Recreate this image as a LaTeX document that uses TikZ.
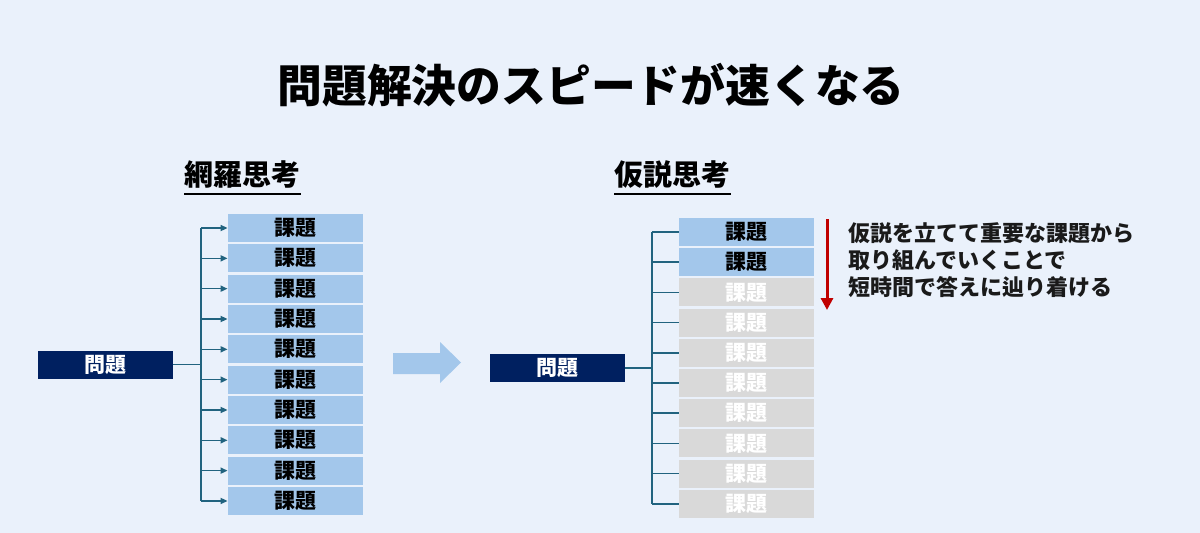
\documentclass[tikz,border=0pt]{standalone}
\usepackage{fontspec}
\setmainfont{Noto Sans CJK JP}
\usetikzlibrary{arrows.meta}
\definecolor{bg}{HTML}{EAF1FB}
\definecolor{lb}{HTML}{A3C7EB}
\definecolor{gr}{HTML}{D9D9D9}
\definecolor{navy}{HTML}{002060}
\definecolor{ln}{HTML}{21637F}
\definecolor{rd}{HTML}{C00000}
\definecolor{txt}{HTML}{1A1A1A}
\begin{document}
\begin{tikzpicture}[x=0.5pt,y=-0.5pt,
  kbox/.style={minimum width=67.5pt, minimum height=14pt, inner sep=0pt, font=\bfseries\fontsize{10.5}{12}\selectfont},
  bluebox/.style={kbox, fill=lb, text=black},
  graybox/.style={kbox, fill=gr, text=white},
  probbox/.style={minimum width=67.5pt, minimum height=14pt, inner sep=0pt, fill=navy, text=white, font=\bfseries\fontsize{10.5}{12}\selectfont},
  heading/.style={inner sep=0pt, text=black, font=\bfseries\fontsize{14.5}{16}\selectfont},
  conn/.style={draw=ln, line width=0.8pt},
  arr/.style={conn, -{Triangle[length=3.5pt,width=3pt]}},
]
\useasboundingbox (0,0) rectangle (1200,532);
\fill[bg] (-20,-20) rectangle (1220,560);

% title
\node[inner sep=0pt, text=black, font=\bfseries\fontsize{22.4}{26}\selectfont] (title) at (591,85) {問題解決のスピードが速くなる};

% headings
\node[heading] (h1) at (242.5,174) {網羅思考};
\node[heading] (h2) at (672.5,174) {仮説思考};
\draw[line width=0.8pt] ([yshift=-3pt]h1.south west) -- ([yshift=-3pt]h1.south east);
\draw[line width=0.8pt] ([yshift=-3pt]h2.south west) -- ([yshift=-3pt]h2.south east);

% left side
\node[probbox] (p1) at (105.5,364.5) {問題};
\coordinate (s1) at (201,364.5);
\foreach \i in {0,...,9}{
  \node[bluebox] (a\i) at (295.5,{228+30.33*\i}) {課題};
}
\draw[conn] (p1.east) -- (s1);
\draw[conn] (s1 |- a0.west) -- (s1 |- a9.west);
\foreach \i in {0,...,9}{
  \draw[arr] (s1 |- a\i.west) -- (a\i.west);
}

% big arrow
\fill[lb] (393,353) -- (440,353) -- (440,342) -- (461,362.5) -- (440,383) -- (440,374) -- (393,374) -- cycle;

% right side
\node[probbox] (p2) at (557,368) {問題};
\coordinate (s2) at (652,368);
\foreach \i in {0,1}{
  \node[bluebox] (b\i) at (746.5,{232+30.2*\i}) {課題};
}
\foreach \i in {2,...,9}{
  \node[graybox] (b\i) at (746.5,{232+30.2*\i}) {課題};
}
\draw[conn] (p2.east) -- (s2);
\draw[conn] (s2 |- b0.west) -- (s2 |- b9.west);
\foreach \i in {0,...,9}{
  \draw[conn] (s2 |- b\i.west) -- (b\i.west);
}

% red arrow
\coordinate (r1) at (827,219);
\coordinate (r2) at (827,310);
\draw[rd, line width=1.5pt, -{Triangle[length=6pt,width=6pt]}] (r1) -- (r2);

% description
\node[anchor=west, align=left, inner sep=0pt, text=txt, font=\bfseries\fontsize{11}{13.5}\selectfont] (desc) at (848,260)
  {仮説を立てて重要な課題から\\取り組んでいくことで\\短時間で答えに辿り着ける};
\end{tikzpicture}
\end{document}
